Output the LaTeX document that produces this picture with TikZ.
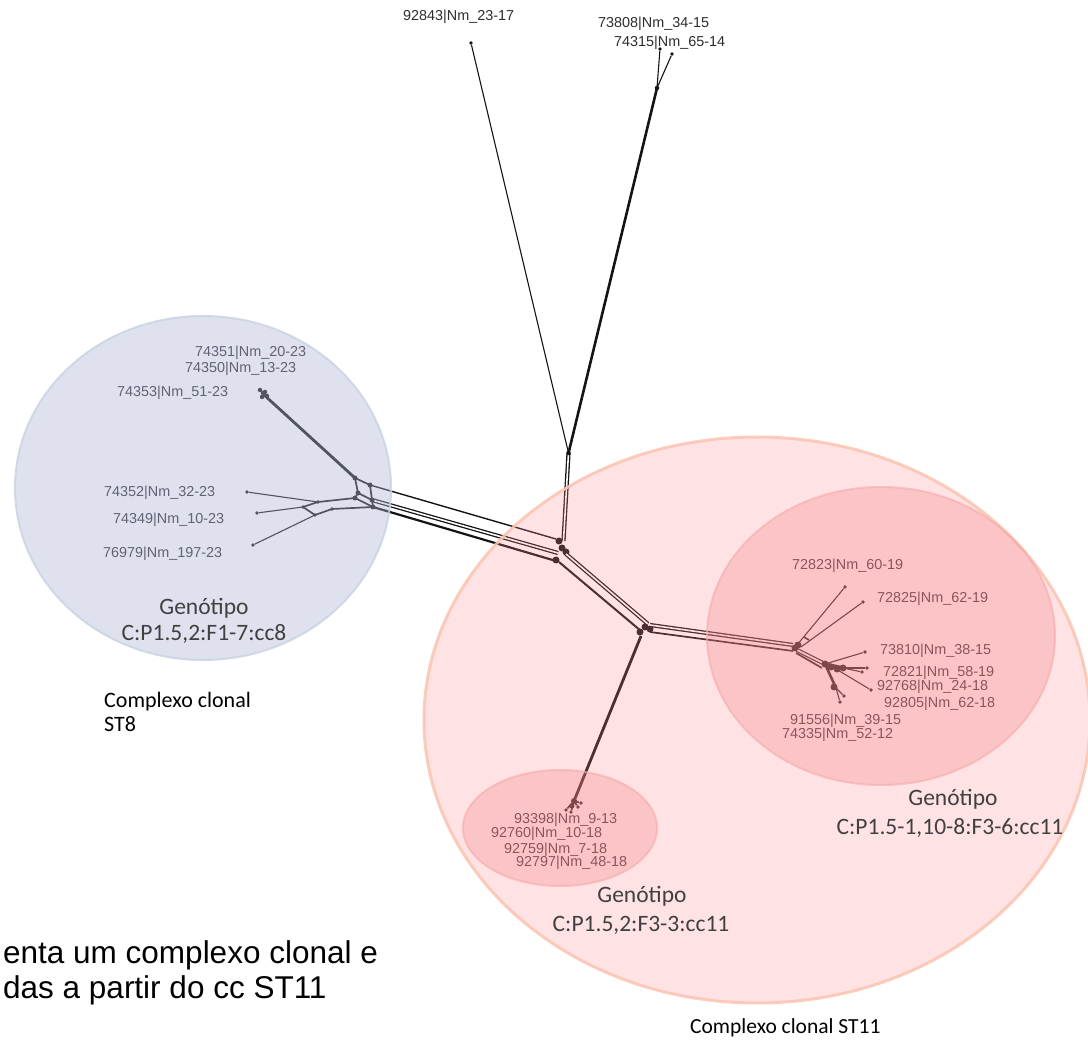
\documentclass[tikz,border=0pt]{standalone}
\usepackage{fontspec}
\setmainfont{Liberation Sans}
\newfontfamily\isolatefont{Liberation Sans}
\newfontfamily\calfont{Carlito}
\definecolor{netblack}{RGB}{20,20,22}
\definecolor{labelgray}{RGB}{45,45,50}
\definecolor{genogray}{RGB}{64,64,64}
\definecolor{stviolet}{RGB}{175,180,215}
\definecolor{stvioletline}{RGB}{200,210,224}
\definecolor{stpink}{RGB}{250,133,142}
\definecolor{stpinkline}{RGB}{251,196,176}
\definecolor{gtpink}{RGB}{245,130,135}
\definecolor{gtpinkline}{RGB}{247,170,170}
\begin{document}
\begin{tikzpicture}[x=1pt,y=-1pt,
  edge/.style={draw=netblack,line width=1.1pt},
  edgemid/.style={draw=netblack,line width=1.7pt},
  edgebold/.style={draw=netblack,line width=2.8pt},
  twin/.style={draw=netblack,line width=1.3pt,double=white,double distance=1.6pt},
  tip/.style={circle,fill=netblack,inner sep=0pt,minimum size=3.8pt},
  knot/.style={circle,fill=netblack,inner sep=0pt,minimum size=5pt},
  isolate/.style={font=\isolatefont\fontsize{14.4}{16}\selectfont,text=labelgray,inner sep=0pt,anchor=base west},
  geno/.style={font=\calfont\fontsize{23.5}{26}\selectfont,text=genogray,inner sep=0pt,anchor=base},
  cctext/.style={font=\calfont\fontsize{22}{24}\selectfont,text=black,inner sep=0pt,anchor=base west},
  region/.style={line width=2pt}]
\useasboundingbox (0,0) rectangle (1088,1040);

% ---------- tree: top branches ----------
\node[tip] (t92843) at (471,43) {};
\node[tip] (t73808) at (660,49) {};
\node[tip] (t74315) at (672,54) {};
\coordinate (jTop) at (657,88);
\coordinate (jT) at (568.5,453);
\coordinate (jTdown) at (563.5,541);
\draw[edge] (t92843) -- (jT);
\draw[edge] (t73808) -- (jTop);
\draw[edge] (t74315) -- (jTop);
\draw[draw=netblack,line width=2.6pt] (jTop) -- (jT);
\draw[twin] (jT) -- (jTdown);
\node[knot,minimum size=4.5pt] at (jTop) {};
\node[knot,minimum size=4.5pt] at (jT) {};

% ---------- central hub ----------
\coordinate (c1) at (556,539);
\coordinate (c2) at (558,553);
\coordinate (c3) at (556,561);
\coordinate (c4) at (566,554);
\coordinate (c5) at (559,562);
\foreach \p in {(559,541),(566,552),(556,560),(562,548)} \node[knot,minimum size=7pt] at \p {};

% ---------- ST8 group ----------
\coordinate (n1) at (355,478);
\coordinate (n2) at (370,485);
\coordinate (n3) at (358,493);
\coordinate (n4) at (355,498);
\coordinate (n5) at (372,500);
\coordinate (n6) at (373,507);
\coordinate (n7) at (318,502);
\coordinate (n8) at (303,507);
\coordinate (n9) at (315,515);
\coordinate (n10) at (332,509);
\coordinate (u) at (263,394);
\node[tip] (l74352) at (247,492) {};
\node[tip] (l74349) at (257,513) {};
\node[tip] (l76979) at (253,545) {};
\draw[edge,line width=1.4pt] (n2) -- (c1);
\draw[twin] (n5) -- (c2);
\draw[edgemid,line width=2.2pt] (n6) -- (c3);
\draw[edgebold] (n1) -- (u);
\foreach \a/\b in {n1/n2,n1/n3,n3/n4,n2/n5,n3/n5,n4/n6,n5/n6,n7/n4,n8/n7,n8/n9,n9/n10,n10/n6}
  \draw[edgemid] (\a) -- (\b);
\draw[edge] (l74352) -- (n7);
\draw[edge] (l74349) -- (n8);
\draw[edge] (l76979) -- (n9);
\foreach \p in {(260,390),(265,392),(262,397),(267,396),(263,393)} \node[knot,minimum size=4.5pt] at \p {};
\foreach \p in {n1,n2,n3,n4,n5,n6} \node[knot,minimum size=5pt] at (\p) {};
\foreach \p in {n7,n8,n9,n10} \node[tip] at (\p) {};

% ---------- lower hub and its branches ----------
\coordinate (k1) at (648,624);
\coordinate (k2) at (641,631);
\coordinate (k3) at (650,625);
\coordinate (k4) at (650,632);
\coordinate (k5) at (641,636);
\draw[twin] (c4) -- (k1);
\draw[edgemid,line width=2pt] (c5) -- (k2);
\foreach \p in {(645,627),(640,632),(650,629)} \node[knot,minimum size=7pt] at \p {};

% bottom branch
\coordinate (bEnd) at (574,801);
\draw[draw=netblack,line width=2.8pt] (k5) -- (bEnd);
\node[tip] (b1) at (566,810) {};
\node[tip] (b2) at (571,812) {};
\node[tip] (b3) at (578,807) {};
\node[tip] (b4) at (581,803) {};
\foreach \q in {b1,b2,b3,b4} \draw[edgemid] (bEnd) -- (\q);
\node[knot,minimum size=6pt] at (bEnd) {};
\node[knot,minimum size=5pt] at (572,806) {};

% right branch
\coordinate (r1) at (793,645);
\coordinate (r2) at (793,651);
\draw[twin] (k3) -- (r1);
\draw[edgemid] (k4) -- (r2);
\coordinate (rA) at (797,645);
\coordinate (rB) at (801,647);
\node[tip] (l72823) at (845,587) {};
\node[tip] (l72825) at (863,602) {};
\draw[edge] (rA) -- (l72823);
\draw[edge] (rB) -- (l72825);
\draw[edgemid] (804,637) -- (809,640);
\coordinate (rr) at (825,664);
\coordinate (rr3) at (843,668);
\coordinate (rr4) at (836,688);
\draw[twin] (797,650) -- (rr);
\draw[edgemid] (796,653) -- (822,668);
\node[tip] (l73810) at (865,652) {};
\node[tip] (l72821) at (867,668) {};
\node[tip] (lx1) at (862,672) {};
\node[tip] (l92768) at (871,690) {};
\node[tip] (lx2) at (840,702) {};
\node[tip] (lx3) at (844,696) {};
\draw[edge] (rr) -- (l73810);
\draw[draw=netblack,line width=3.4pt] (rr) -- (rr3);
\draw[edge] (rr3) -- (l72821);
\draw[edge] (rr3) -- (lx1);
\draw[edge] (831,666) -- (l92768);
\draw[draw=netblack,line width=2.6pt] (rr) -- (rr4);
\draw[edge] (rr4) -- (lx2);
\draw[edge] (rr4) -- (lx3);
\foreach \p in {(795,648),(798,645),(825,664),(831,667),(843,668),(837,669),(834,687)} \node[knot,minimum size=7pt] at \p {};

% ---------- isolate labels ----------
\node[isolate] at (403,21) {92843|Nm\_23-17};
\node[isolate] at (598,28) {73808|Nm\_34-15};
\node[isolate] at (614,47) {74315|Nm\_65-14};
\node[isolate] at (195,357) {74351|Nm\_20-23};
\node[isolate] at (185,373) {74350|Nm\_13-23};
\node[isolate] at (117,397) {74353|Nm\_51-23};
\node[isolate] at (104,497) {74352|Nm\_32-23};
\node[isolate] at (113,524) {74349|Nm\_10-23};
\node[isolate] at (103,558) {76979|Nm\_197-23};
\node[isolate] at (792,569) {72823|Nm\_60-19};
\node[isolate] at (877,602) {72825|Nm\_62-19};
\node[isolate] at (880,654) {73810|Nm\_38-15};
\node[isolate] at (883,676) {72821|Nm\_58-19};
\node[isolate] at (877,690) {92768|Nm\_24-18};
\node[isolate] at (884,707) {92805|Nm\_62-18};
\node[isolate] at (790,724) {91556|Nm\_39-15};
\node[isolate] at (782,738) {74335|Nm\_52-12};
\node[isolate] at (514,823) {93398|Nm\_9-13};
\node[isolate] at (491,837) {92760|Nm\_10-18};
\node[isolate] at (504,853) {92759|Nm\_7-18};
\node[isolate] at (516,866) {92797|Nm\_48-18};

% ---------- translucent clonal-complex and genotype regions ----------
\path[region,fill=stviolet,fill opacity=0.4,draw=stvioletline,draw opacity=0.8]
  (203,488) ellipse [x radius=188,y radius=172];
\path[region,line width=3pt,fill=stpink,fill opacity=0.24,draw=stpinkline,draw opacity=0.85]
  (757,720) ellipse [x radius=333,y radius=283];
\path[region,fill=gtpink,fill opacity=0.3,draw=gtpinkline,draw opacity=0.6]
  (881,636) ellipse [x radius=174,y radius=149];
\path[region,fill=gtpink,fill opacity=0.3,draw=gtpinkline,draw opacity=0.6]
  (560,828) ellipse [x radius=97,y radius=58];

% ---------- region captions ----------
\node[geno] at (204,614) {Genótipo};
\node[geno] at (204,641) {C:P1.5,2:F1-7:cc8};
\node[geno] at (642,902) {Genótipo};
\node[geno] at (641,931) {C:P1.5,2:F3-3:cc11};
\node[geno] at (953,805) {Genótipo};
\node[geno] at (950,834) {C:P1.5-1,10-8:F3-6:cc11};
\node[cctext] at (104,707) {Complexo clonal};
\node[cctext] at (104,731) {ST8};
\node[cctext,font=\calfont\fontsize{21.5}{24}\selectfont] at (690,1033) {Complexo clonal ST11};
\node[font=\fontsize{31.5}{35}\selectfont,text=black,inner sep=0pt,anchor=base west] at (3,963) {enta um complexo clonal e};
\node[font=\fontsize{31.5}{35}\selectfont,text=black,inner sep=0pt,anchor=base west] at (3,998) {das a partir do cc ST11};
\end{tikzpicture}
\end{document}
